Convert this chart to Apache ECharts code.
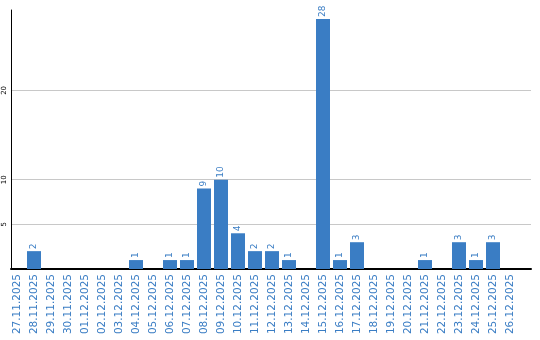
<!DOCTYPE html>
<html><head><meta charset="utf-8">
<script src="https://cdn.jsdelivr.net/npm/echarts@6/dist/echarts.min.js"></script>
<style>html,body{margin:0;padding:0;background:#fff}#c{width:540px;height:340px}</style>
</head><body><div id="c"></div>
<script>
const categories = ['27.11.2025','28.11.2025','29.11.2025','30.11.2025','01.12.2025','02.12.2025','03.12.2025','04.12.2025','05.12.2025','06.12.2025','07.12.2025','08.12.2025','09.12.2025','10.12.2025','11.12.2025','12.12.2025','13.12.2025','14.12.2025','15.12.2025','16.12.2025','17.12.2025','18.12.2025','19.12.2025','20.12.2025','21.12.2025','22.12.2025','23.12.2025','24.12.2025','25.12.2025','26.12.2025'];
const values = [0,2,0,0,0,0,0,1,0,1,1,9,10,4,2,2,1,0,28,1,3,0,0,0,1,0,3,1,3,0];
const yTickLabels = [5,10,20];
const yMax = 29;

const blue = '#3a7dc4';
const chart = echarts.init(document.getElementById('c'));
const lineColors = [0,5,10,15,20,25,29].map(v => yTickLabels.includes(v) ? '#c8c8c8' : 'rgba(0,0,0,0)');
chart.setOption({
  animation: false,
  grid: [
    {left: 11, right: 9, top: 10, bottom: 71},
    {left: 8.5, width: 510, top: 10, bottom: 71}
  ],
  xAxis: [
    {type: 'value', gridIndex: 0, min: 0, max: 1,
     axisLine: {show: true, lineStyle: {color: '#000', width: 2}},
     axisTick: {show: false}, axisLabel: {show: false}, splitLine: {show: false}},
    {type: 'category', gridIndex: 1, data: categories,
     axisLine: {show: false}, axisTick: {show: false},
     axisLabel: {interval: 0, rotate: 90, margin: 5, color: blue, fontSize: 10.5, fontFamily: 'DejaVu Sans'}}
  ],
  yAxis: [
    {type: 'value', gridIndex: 0, min: 0, max: yMax, interval: 5,
     axisLine: {show: true, lineStyle: {color: '#000', width: 1}},
     axisTick: {show: false},
     axisLabel: {rotate: 90, margin: 3, fontSize: 7, color: '#000', fontFamily: 'DejaVu Sans',
       formatter: v => yTickLabels.includes(v) ? String(v) : ''},
     splitLine: {show: true, showMinLine: true, showMaxLine: true, lineStyle: {color: lineColors, width: 1}}},
    {type: 'value', gridIndex: 1, min: 0, max: yMax, show: false}
  ],
  series: [{
    type: 'bar', xAxisIndex: 1, yAxisIndex: 1, data: values, barWidth: 14,
    itemStyle: {color: blue},
    label: {show: true, position: 'top', rotate: 90, align: 'left', verticalAlign: 'middle', distance: 2,
      color: blue, fontSize: 9, fontFamily: 'DejaVu Sans',
      formatter: p => p.value > 0 ? String(p.value) : ''}
  }]
});
</script></body></html>
